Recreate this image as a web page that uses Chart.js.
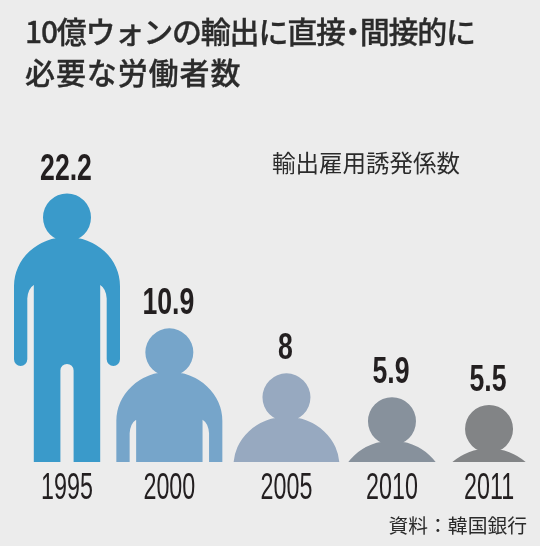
<!DOCTYPE html>
<html lang="ja">
<head>
<meta charset="utf-8">
<title>輸出雇用誘発係数</title>
<style>
  html, body { margin: 0; padding: 0; background: #ececec; }
  #wrap { position: relative; width: 540px; height: 546px; overflow: hidden; font-family: "Noto Sans CJK JP", sans-serif; }
  #wrap canvas { position: absolute; left: 0; top: 0; }
  .note { position: absolute; white-space: nowrap; color: #2b2b2b; }
  #title1, #title2 { left: 25px; font-size: 30px; line-height: 36px; font-weight: 500; -webkit-text-stroke: 0.3px #2b2b2b; }
  #title1 { top: 12px; letter-spacing: -1.2px; }
  #title1 span { margin: 0 -7px; }
  #title2 { top: 53px; letter-spacing: 0.9px; }
  #caption { left: 272px; top: 147px; font-size: 23.5px; line-height: 30px; }
  #source { right: 13px; top: 511px; font-size: 19.8px; line-height: 28px; }
</style>
</head>
<body>
<div id="wrap">
  <canvas id="chart" width="540" height="546"></canvas>
  <div class="note" id="title1">10億ウォンの輸出に直接<span>・</span>間接的に</div>
  <div class="note" id="title2">必要な労働者数</div>
  <div class="note" id="caption">輸出雇用誘発係数</div>
  <div class="note" id="source">資料：韓国銀行</div>
</div>
<script src="https://cdn.jsdelivr.net/npm/chart.js@4"></script>
<script>
const years = ["1995", "2000", "2005", "2010", "2011"];
const values = [22.2, 10.9, 8, 5.9, 5.5];
// the picture's figures are not quite to scale, so this is how tall each one is drawn
const figureHeights = [22.2, 11.05, 7.33, 5.35, 4.72];
// the figures are unevenly spaced along the bottom
const xSlots = [0, 0.97, 2.08, 3.08, 4];
const figureColors = ["#3a9aca", "#76a5ca", "#97a9c0", "#87919c", "#828486"];

const FIGURE_TALL = 268.5;

function drawPerson(ctx, x, top, unit) {
  ctx.save();
  ctx.translate(x, top);
  ctx.scale(unit, unit);
  ctx.beginPath();
  ctx.arc(0, 24, 24, 0, Math.PI * 2);
  ctx.closePath();
  ctx.moveTo(0, 43.5);
  ctx.ellipse(0, 92.5, 53, 49, 0, -Math.PI / 2, 0, false);
  ctx.lineTo(53, 165.8);
  ctx.arc(46.35, 165.8, 6.65, 0, Math.PI, false);
  ctx.lineTo(39.7, 105);
  ctx.quadraticCurveTo(39, 95, 33.2, 91.5);
  ctx.lineTo(33.2, FIGURE_TALL);
  ctx.lineTo(6.6, FIGURE_TALL);
  ctx.lineTo(6.6, 177);
  ctx.arc(0, 177, 6.6, 0, Math.PI, true);
  ctx.lineTo(-6.6, FIGURE_TALL);
  ctx.lineTo(-33.2, FIGURE_TALL);
  ctx.lineTo(-33.2, 91.5);
  ctx.quadraticCurveTo(-39, 95, -39.7, 105);
  ctx.lineTo(-39.7, 165.8);
  ctx.arc(-46.35, 165.8, 6.65, 0, Math.PI, false);
  ctx.lineTo(-53, 92.5);
  ctx.ellipse(0, 92.5, 53, 49, 0, Math.PI, Math.PI * 1.5, false);
  ctx.closePath();
  ctx.fill();
  ctx.restore();
}

function narrowText(ctx, text, x, y, font, squeeze) {
  ctx.save();
  ctx.translate(x, y);
  ctx.scale(squeeze, 1);
  ctx.font = font;
  ctx.textAlign = "center";
  ctx.textBaseline = "alphabetic";
  ctx.fillStyle = "#231f20";
  ctx.fillText(text, 0, 0);
  ctx.restore();
}

// bars become people: same figure every time, sunk behind the baseline
const personBars = {
  id: "personBars",
  beforeDatasetDraw(chart, args) {
    const ctx = chart.ctx;
    const area = chart.chartArea;
    const unit = area.height / FIGURE_TALL;

    args.meta.data.forEach(bar => {
      ctx.save();
      ctx.beginPath();
      ctx.rect(0, 0, chart.width, bar.base);
      ctx.clip();
      ctx.fillStyle = bar.options.backgroundColor;
      drawPerson(ctx, bar.x, bar.y, unit);
      ctx.restore();
    });

    return false;
  },
  afterDatasetsDraw(chart) {
    const ctx = chart.ctx;
    const bars = chart.getDatasetMeta(0).data;

    bars.forEach((bar, i) => {
      narrowText(ctx, String(values[i]), bar.x - 1, bar.y - 14, "bold 37px 'Liberation Sans Narrow', 'Liberation Sans'", 0.72);
    });

    chart.scales.x.ticks.forEach((tick, i) => {
      const px = chart.scales.x.getPixelForValue(tick.value);
      narrowText(ctx, years[i], px, chart.chartArea.bottom + 36.5, "37px 'Liberation Sans Narrow', 'Liberation Sans'", 0.63);
    });
  }
};

new Chart(document.getElementById("chart"), {
  type: "bar",
  data: {
    datasets: [{
      data: xSlots.map((slot, i) => ({ x: slot, y: figureHeights[i] })),
      backgroundColor: figureColors,
      barThickness: 100
    }]
  },
  options: {
    responsive: false,
    animation: false,
    layout: { padding: { top: 193.5, bottom: 84, left: 0, right: 0 } },
    plugins: { legend: { display: false }, tooltip: { enabled: false }, title: { display: false } },
    scales: {
      x: {
        type: "linear",
        display: false,
        offset: false,
        min: -0.635,
        max: 4.483,
        afterBuildTicks: scale => {
          scale.ticks = xSlots.map(value => ({ value }));
        }
      },
      y: { display: false, min: 0, max: 22.2 }
    }
  },
  plugins: [personBars]
});
</script>
</body>
</html>
